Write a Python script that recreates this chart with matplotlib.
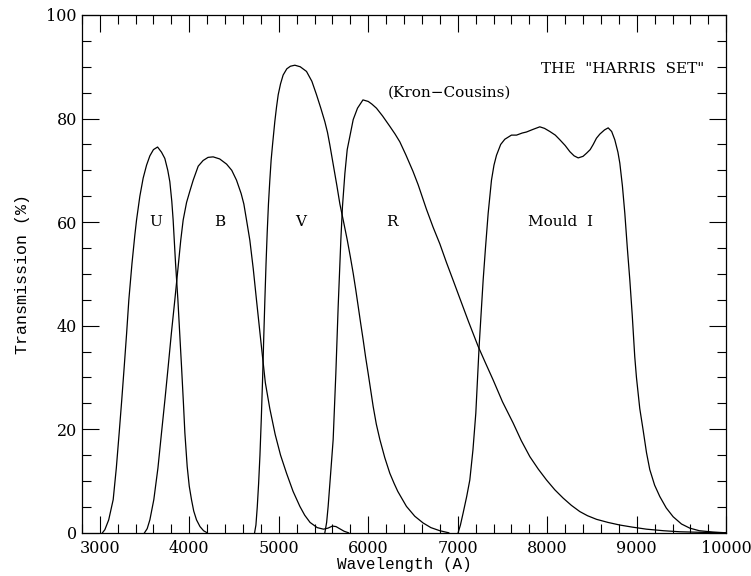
import numpy as np
import matplotlib
matplotlib.use('Agg')
import matplotlib.pyplot as plt
from matplotlib.ticker import MultipleLocator

plt.rcParams['font.family'] = 'serif'
plt.rcParams['font.serif'] = ['DejaVu Serif']

# Filter transmission curves (wavelength in A, transmission in %)
u_wl = [3030, 3057, 3100, 3150, 3185, 3217, 3245, 3273, 3300, 3325, 3360, 3392,
        3411, 3448, 3485, 3523, 3560, 3600, 3646, 3690, 3727, 3760, 3783, 3805,
        3820, 3847, 3873, 3895, 3914, 3935, 3951, 3977, 4000, 4025, 4050, 4081,
        4120, 4160, 4200]
u_tr = [0, 0.6, 2.5, 6.4, 12.5, 19.3, 25.5, 32, 38.5, 45, 52, 57.5,
        60.4, 65, 68.5, 71, 72.8, 74, 74.5, 73.5, 72.3, 70, 67.8, 64,
        60.4, 52, 45, 38, 32, 25, 19.3, 12.8, 9, 6.4, 4.2, 2.5,
        1.2, 0.4, 0]

b_wl = [3500, 3530, 3560, 3604, 3650, 3690, 3730, 3764, 3800, 3839, 3876, 3905,
        3932, 3970, 4007, 4044, 4100, 4155, 4210, 4267, 4340, 4417, 4475, 4528,
        4580, 4610, 4640, 4677, 4715, 4751, 4800, 4850, 4900, 4960, 5020, 5087,
        5160, 5236, 5290, 5350, 5430, 5500, 5550, 5600, 5640, 5680, 5730, 5780]
b_tr = [0, 0.8, 2.5, 6.4, 12.5, 19.3, 26, 32, 38.5, 45, 51.4, 56.5,
        60.4, 63.8, 66, 68.1, 70.8, 71.9, 72.5, 72.6, 72.2, 71.2, 70, 68.1,
        65.5, 63.5, 60.4, 56.5, 51, 45, 37, 29, 24, 19, 15, 11.5,
        8, 5.1, 3.4, 2.0, 1.0, 0.7, 0.9, 1.3, 1.2, 0.8, 0.3, 0]

v_wl = [4730, 4745, 4760, 4775, 4790, 4805, 4820, 4832, 4845, 4858, 4871, 4885,
        4900, 4915, 4931, 4956, 4975, 4994, 5020, 5049, 5090, 5130, 5180, 5240,
        5310, 5370, 5422, 5470, 5515, 5545, 5571, 5610, 5650, 5683, 5725, 5765,
        5800, 5832, 5860, 5888, 5915, 5943, 5970, 5999, 6027, 6055, 6090, 6130,
        6185, 6241, 6290, 6330, 6380, 6427, 6520, 6613, 6700, 6800, 6900]
v_tr = [0, 1.5, 5, 9.5, 15, 22, 30, 37.5, 45, 52, 58, 63.5,
        68, 72, 75, 79.4, 82.2, 84.6, 86.7, 88.4, 89.6, 90.1, 90.3, 90,
        89.1, 87.2, 84.6, 82, 79.4, 77.3, 74.9, 71, 67, 63.5, 60, 56.6,
        53.3, 50.1, 47, 43.7, 40.5, 37.3, 34, 30.8, 27.6, 24.4, 21, 18,
        14.5, 11.5, 9.5, 8, 6.5, 5.1, 3.2, 1.9, 1.0, 0.4, 0]

r_wl = [5515, 5535, 5552, 5580, 5608, 5638, 5664, 5694, 5712, 5739, 5765, 5794,
        5832, 5880, 5941, 6000, 6040, 6092, 6160, 6241, 6300, 6353, 6420, 6500,
        6558, 6650, 6725, 6800, 6874, 6950, 7023, 7120, 7228, 7310, 7396, 7500,
        7619, 7710, 7806, 7900, 7992, 8085, 8178, 8270, 8364, 8450, 8551, 8680,
        8811, 8950, 9109, 9300, 9482, 9700, 10000]
r_tr = [0, 2, 5.1, 11.5, 18, 30.8, 43.7, 56.6, 63, 69.4, 74, 76.5,
        79.8, 82, 83.6, 83.3, 82.8, 82, 80.5, 78.5, 77, 75.5, 73, 69.8,
        67.2, 62.5, 59, 55.8, 52.2, 48.7, 45.3, 40.8, 36, 32.8, 29.5, 25.3,
        21.2, 17.8, 14.7, 12.3, 10.2, 8.3, 6.7, 5.3, 4.1, 3.3, 2.6, 2.0,
        1.5, 1.1, 0.7, 0.4, 0.2, 0.1, 0]

m_wl = [7004, 7030, 7060, 7100, 7135, 7170, 7202, 7239, 7260, 7284, 7310, 7340,
        7377, 7405, 7433, 7480, 7526, 7600, 7657, 7720, 7768, 7840, 7917, 7970,
        8029, 8090, 8141, 8200, 8253, 8300, 8346, 8400, 8439, 8480, 8514, 8550,
        8588, 8640, 8681, 8720, 8755, 8790, 8811, 8840, 8867, 8895, 8923, 8950,
        8978, 8997, 9034, 9071, 9109, 9146, 9200, 9258, 9330, 9407, 9500, 9593,
        9700, 9850, 10000]
m_tr = [0, 1.5, 3.8, 7, 10.2, 16, 23.1, 36, 42, 48.8, 55, 61.7,
        68.1, 71, 72.9, 75, 76, 76.8, 76.8, 77.2, 77.4, 77.9, 78.4, 78.1,
        77.5, 76.8, 75.9, 74.8, 73.6, 72.8, 72.4, 72.7, 73.3, 74, 75, 76.2,
        77, 77.8, 78.2, 77.5, 75.9, 73.5, 71.4, 67, 61.7, 55, 48.8, 42,
        34, 30, 24, 19.9, 15.5, 12.2, 9.2, 7, 4.8, 3.1, 1.7, 0.9,
        0.4, 0.15, 0]

fig = plt.figure(figsize=(7.51, 5.76), dpi=100)
ax = fig.add_axes([0.109, 0.075, 0.858, 0.899])

for wl, tr in [(u_wl, u_tr), (b_wl, b_tr), (v_wl, v_tr), (r_wl, r_tr), (m_wl, m_tr)]:
    ax.plot(wl, tr, color='black', lw=0.9)

ax.set_xlim(2800, 10000)
ax.set_ylim(0, 100)
ax.xaxis.set_major_locator(MultipleLocator(1000))
ax.xaxis.set_minor_locator(MultipleLocator(200))
ax.yaxis.set_major_locator(MultipleLocator(20))
ax.yaxis.set_minor_locator(MultipleLocator(5))
ax.tick_params(which='both', direction='in', top=True, right=True, labelsize=11.5, width=0.8)
ax.tick_params(which='major', length=12)
ax.tick_params(which='minor', length=6.5)
ax.tick_params(axis='x', pad=5)
for s in ax.spines.values():
    s.set_linewidth(0.9)

ax.set_xlabel('Wavelength (A)', fontsize=11.5, family='Liberation Mono', labelpad=0)
ax.set_ylabel('Transmission (%)', fontsize=12, family='Liberation Mono', labelpad=12)

ax.text(3620, 60, 'U', ha='center', va='center', fontsize=11)
ax.text(4340, 60, 'B', ha='center', va='center', fontsize=11)
ax.text(5240, 60, 'V', ha='center', va='center', fontsize=11)
ax.text(6265, 60, 'R', ha='center', va='center', fontsize=11)
ax.text(8150, 60, 'Mould  I', ha='center', va='center', fontsize=11)
ax.text(6910, 85, '(Kron\u2212Cousins)', ha='center', va='center', fontsize=11)
ax.text(9760, 89.5, 'THE  "HARRIS  SET"', ha='right', va='center', fontsize=11)

fig.savefig('out.png', dpi=100)
